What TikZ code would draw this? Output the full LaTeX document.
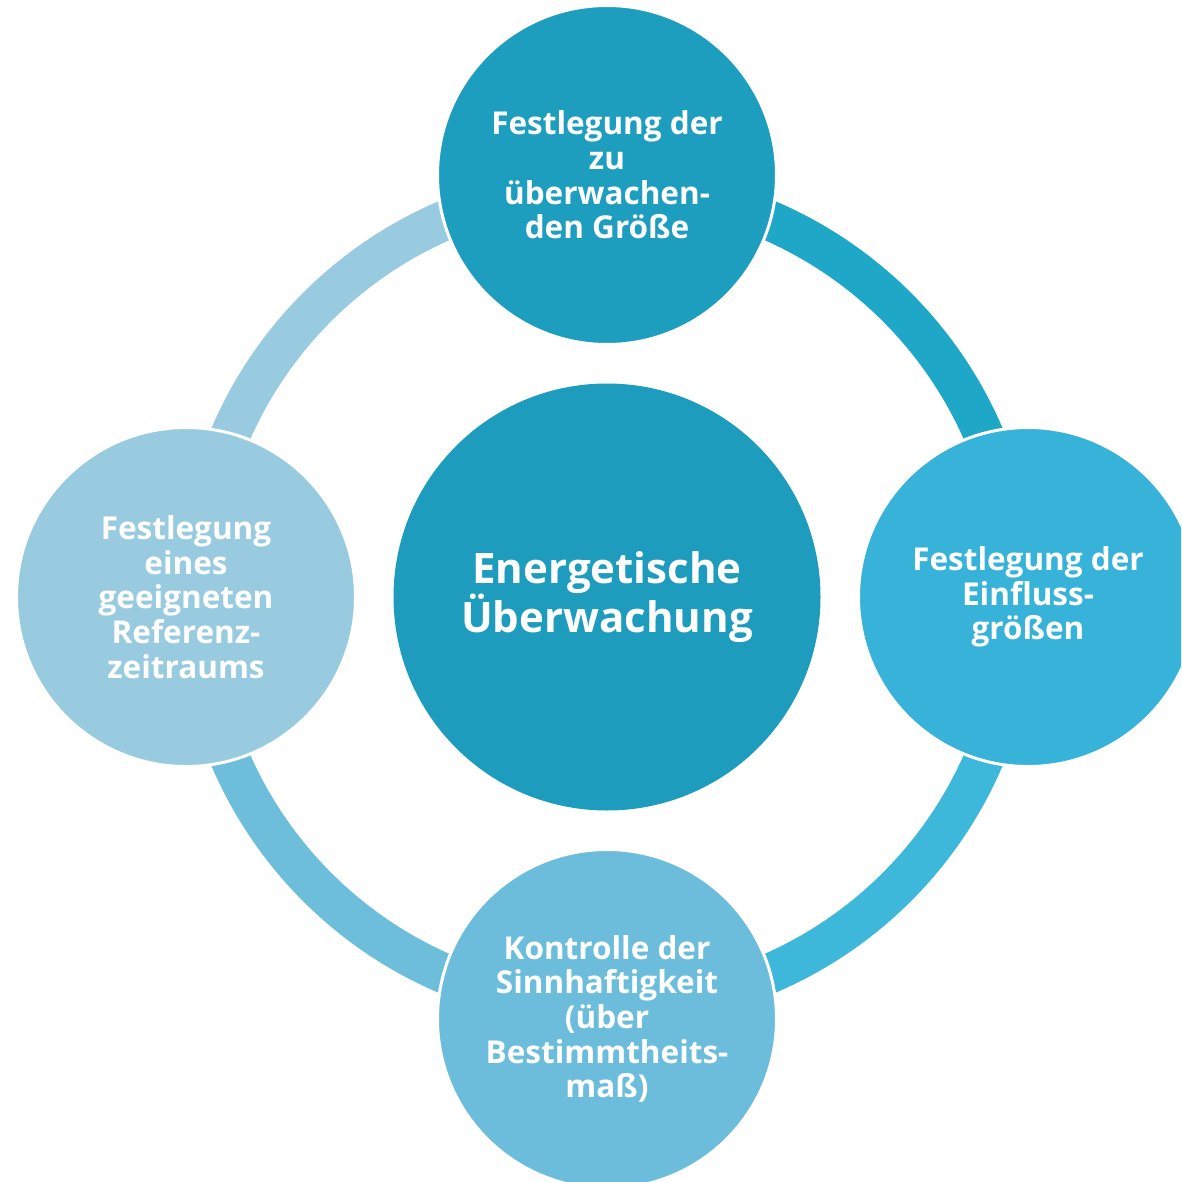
\documentclass[tikz,border=0pt]{standalone}
\usepackage{fontspec}
\setmainfont{Open Sans}
\definecolor{cTop}{HTML}{1E9EBF}
\definecolor{cCenter}{HTML}{1E9CBD}
\definecolor{cRight}{HTML}{37B2D8}
\definecolor{cBottom}{HTML}{6BBDDB}
\definecolor{cLeft}{HTML}{99CBE0}
\definecolor{rTR}{HTML}{1FA7C8}
\definecolor{rRB}{HTML}{3DB7DA}
\definecolor{rBL}{HTML}{6CBEDB}
\definecolor{rLT}{HTML}{99CBE0}
\begin{document}
\begin{tikzpicture}[x=1pt,y=1pt,
  sat/.style={circle,draw=white,line width=3pt,minimum size=339pt,inner sep=0pt,
    text=white,align=center,font=\fontsize{31.5}{34.7}\selectfont\bfseries},
  hub/.style={circle,minimum size=427pt,inner sep=0pt,fill=cCenter,
    text=white,align=center,font=\fontsize{42}{46}\selectfont\bfseries},
  ring/.style={line width=40pt}]
\useasboundingbox (0,0) rectangle (1181,-1182);
\clip (0,0) rectangle (1181,-1182);
\coordinate (c) at (607,-597);
\draw[ring,rTR] (c) ++(90:410) arc (90:0:410);
\draw[ring,rRB] (c) ++(0:410) arc (0:-90:410);
\draw[ring,rBL] (c) ++(-90:410) arc (-90:-180:410);
\draw[ring,rLT] (c) ++(180:410) arc (180:90:410);
\node[hub] (center) at (c) {Energetische\\Überwachung};
\node[sat,fill=cTop] (top) at (607,-175) {Festlegung der\\zu\\überwachen-\\den Größe};
\node[sat,fill=cRight] (right) at (1028,-597) {Festlegung der\\Einfluss-\\größen};
\node[sat,fill=cBottom] (bottom) at (607,-1019) {Kontrolle der\\Sinnhaftigkeit\\(über\\Bestimmtheits-\\maß)};
\node[sat,fill=cLeft] (left) at (186,-597) {Festlegung\\eines\\geeigneten\\Referenz-\\zeitraums};
\end{tikzpicture}
\end{document}
